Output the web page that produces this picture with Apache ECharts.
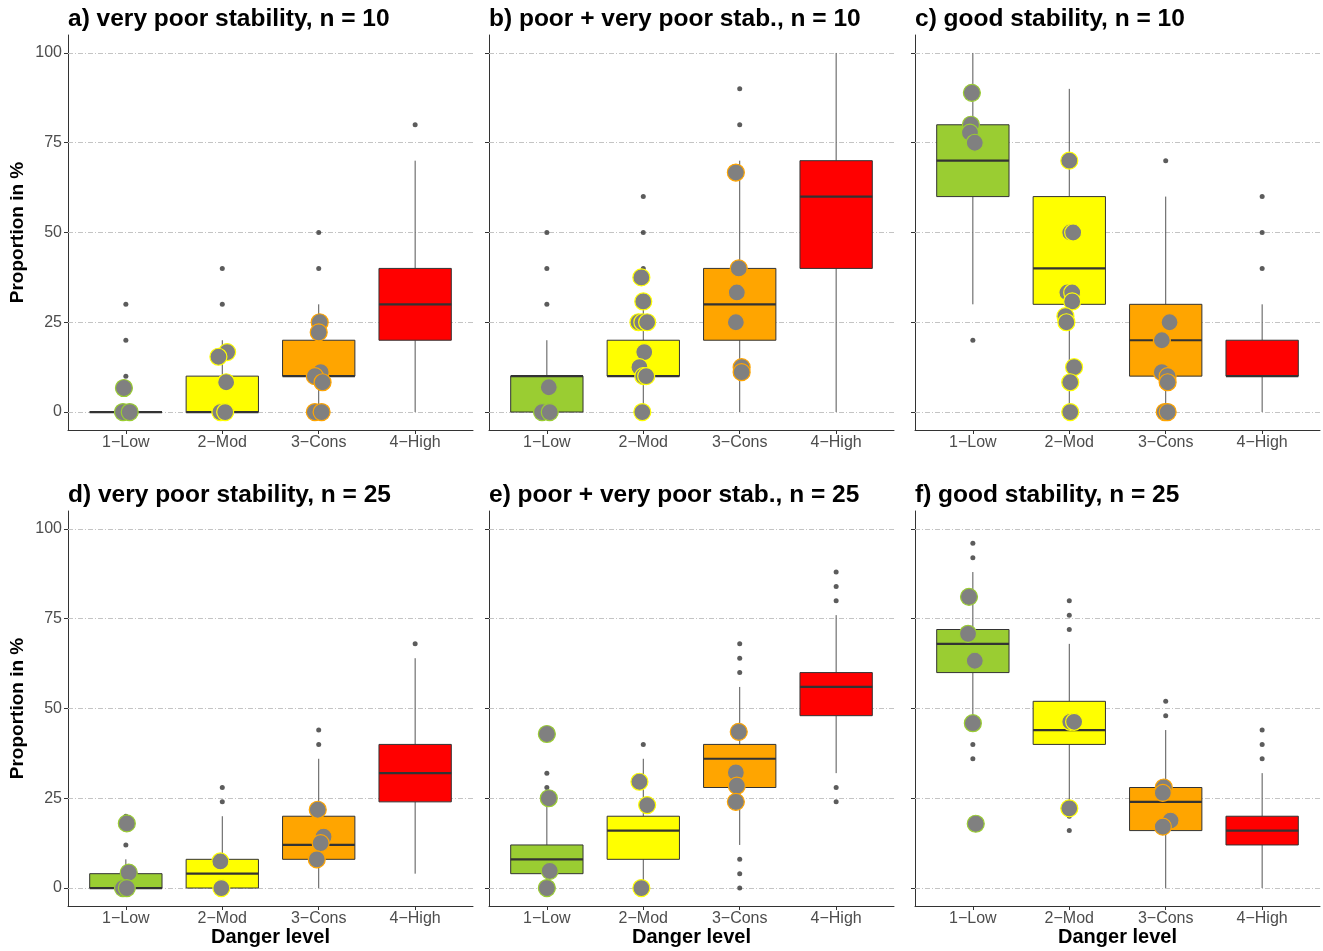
<!DOCTYPE html>
<html>
<head>
<meta charset="utf-8">
<script src="https://cdn.jsdelivr.net/npm/echarts@6/dist/echarts.min.js"></script>
<style>
html,body{margin:0;padding:0;background:#fff;}
#chart{width:1323px;height:951px;}
</style>
</head>
<body>
<div id="chart"></div>
<script>
// ---- categories / labels ----
const categories = ['1\u2212Low', '2\u2212Mod', '3\u2212Cons', '4\u2212High'];
const catColors = ['#9ACD32', '#FFFF00', '#FFA500', '#FF0000'];
const titles = [
  'a) very poor stability, n = 10',
  'b) poor + very poor stab., n = 10',
  'c) good stability, n = 10',
  'd) very poor stability, n = 25',
  'e) poor + very poor stab., n = 25',
  'f) good stability, n = 25'
];
const yTicks = [0, 25, 50, 75, 100];

// ---- box statistics per panel: [lower whisker, Q1, median, Q3, upper whisker] ----
const boxA = [[0,0,0,0,0],[0,0,0,10,20],[0,10,10,20,30],[0,20,30,40,70]];
const boxB = [[0,0,10,10,20],[0,10,10,20,30],[0,20,30,40,70],[0,40,60,70,100]];
const boxC = [[30,60,70,80,100],[0,30,40,60,90],[0,10,20,30,60],[0,10,10,20,30]];
const boxD = [[0,0,0,4,8],[0,0,4,8,20],[0,8,12,20,36],[4,24,32,40,64]];
const boxE = [[0,4,8,12,24],[0,8,16,20,36],[12,28,36,40,56],[32,48,56,60,76]];
const boxF = [[44,60,68,72,88],[24,40,44,52,68],[0,16,24,28,44],[0,12,16,20,32]];

// ---- outliers per panel, per category ----
const outA = [[10,20,30],[30,40],[40,50],[80]];
const outB = [[30,40,50],[40,50,60],[80,90],[]];
const outC = [[20],[],[70],[40,50,60]];
const outD = [[12,20],[24,28],[40,44],[68]];
const outE = [[28,32],[40],[0,4,8,60,64,68],[24,28,80,84,88]];
const outF = [[36,40,92,96],[16,20,72,76,80],[48,52],[36,40,44]];

// ---- case points (jittered x, value) per panel, per category ----
const ptsA = [
  [[0.98,6.7],[0.97,0],[1.04,0]],
  [[2.05,16.7],[1.96,15.4],[2.04,8.3],[1.98,0],[2.03,0]],
  [[3.01,25],[3.0,22.2],[3.02,11.1],[2.96,10],[3.04,8.3],[2.96,0],[3.03,0]],
  []
];
const ptsB = [
  [[1.02,6.9],[0.95,0],[1.03,0]],
  [[1.98,37.5],[2.0,30.8],[1.95,25],[1.99,25],[2.04,25],[2.01,16.7],[1.96,12.5],[2.0,10],[2.03,10],[1.99,0]],
  [[2.96,66.7],[2.99,40],[2.97,33.3],[2.96,25],[3.02,12.5],[3.02,11.1]],
  []
];
const ptsC = [
  [[0.99,88.9],[0.98,80],[0.97,77.8],[1.02,75]],
  [[2.0,70],[2.01,50],[2.04,50],[1.98,33.3],[2.03,33.3],[2.03,30.8],[1.96,26.7],[1.97,25],[2.05,12.5],[2.01,8.3],[2.01,0]],
  [[3.04,25],[2.96,20],[2.96,11.1],[3.02,10],[3.02,8.3],[2.99,0],[3.02,0]],
  []
];
const ptsD = [
  [[1.01,18],[1.03,4.3],[0.97,0],[1.01,0]],
  [[1.98,7.4],[1.99,0]],
  [[2.99,21.8],[3.05,14.3],[3.02,12.5],[2.98,8]],
  []
];
const ptsE = [
  [[1.0,42.9],[1.02,25],[1.03,4.8],[1.0,0]],
  [[1.96,29.6],[2.04,23.1],[1.98,0]],
  [[2.99,43.5],[2.96,32.2],[2.97,28.5],[2.96,24]],
  []
];
const ptsF = [
  [[0.96,81.1],[0.95,70.8],[1.02,63.3],[1.0,45.9],[1.03,17.9]],
  [[2.01,46.3],[2.05,46.3],[2.0,22.2]],
  [[2.98,28],[2.97,26.5],[3.05,18.8],[2.97,17.1]],
  []
];

const panelBoxes = [boxA, boxB, boxC, boxD, boxE, boxF];
const panelOut = [outA, outB, outC, outD, outE, outF];
const panelPts = [ptsA, ptsB, ptsC, ptsD, ptsE, ptsF];

// ---- layout ----
const gridLefts = [68, 489, 915];
const gridWidth = 405;
const gridTops = [35, 511];
const gridHeight = 395;
const titleTops = [7, 483];

const grids = [], xAxes = [], yAxes = [], series = [], titleOpts = [];
const textCol = '#4D4D4D', axisCol = '#333333';
const fontFam = 'Liberation Sans, Arial, sans-serif';

for (let p = 0; p < 6; p++) {
  const r = Math.floor(p / 3), c = p % 3;
  grids.push({left: gridLefts[c], top: gridTops[r], width: gridWidth, height: gridHeight, containLabel: false});
  titleOpts.push({
    text: titles[p], left: gridLefts[c], top: titleTops[r], padding: 0,
    textStyle: {fontFamily: fontFam, fontSize: 24.5, fontWeight: 'bold', color: '#000'}
  });
  xAxes.push({
    type: 'value', gridIndex: p, min: 0.4, max: 4.6,
    axisLine: {show: true, onZero: false, lineStyle: {color: axisCol, width: 1}},
    axisTick: {show: true, customValues: [1,2,3,4], length: 4, lineStyle: {color: axisCol}},
    axisLabel: {show: true, customValues: [1,2,3,4], margin: 5, fontSize: 16, color: textCol,
      fontFamily: fontFam,
      formatter: v => categories[Math.round(v) - 1] || ''},
    splitLine: {show: false},
    name: r === 1 ? 'Danger level' : '', nameLocation: 'middle', nameGap: 20,
    nameTextStyle: {fontSize: 20, fontWeight: 'bold', color: '#000', fontFamily: fontFam}
  });
  yAxes.push({
    type: 'value', gridIndex: p, min: -5, max: 105,
    axisLine: {show: true, onZero: false, lineStyle: {color: axisCol, width: 1}},
    axisTick: {show: true, customValues: yTicks, length: 4, lineStyle: {color: axisCol}},
    axisLabel: {show: c === 0, customValues: yTicks, margin: 6, fontSize: 16, color: textCol,
      fontFamily: fontFam},
    splitLine: {show: false},
    name: c === 0 ? 'Proportion in %' : '', nameLocation: 'middle', nameGap: 41, nameRotate: 90,
    nameTextStyle: {fontSize: 19, fontWeight: 'bold', color: '#000', fontFamily: fontFam}
  });

  // boxes (custom drawn through axes)
  const boxData = panelBoxes[p].map((s, i) => [i + 1].concat(s));
  series.push({
    type: 'custom', xAxisIndex: p, yAxisIndex: p, z: 2,
    data: boxData,
    encode: {x: 0, y: [1,2,3,4,5]},
    renderItem: function (params, api) {
      const x = api.value(0);
      const lo = api.coord([x, api.value(1)]);
      const q1 = api.coord([x, api.value(2)]);
      const md = api.coord([x, api.value(3)]);
      const q3 = api.coord([x, api.value(4)]);
      const hi = api.coord([x, api.value(5)]);
      const hw = api.size([0.75, 0])[0] / 2;
      const cx = lo[0];
      return {type: 'group', children: [
        {type: 'line', shape: {x1: cx, y1: q1[1], x2: cx, y2: lo[1]}, style: {stroke: '#555', lineWidth: 1}},
        {type: 'line', shape: {x1: cx, y1: q3[1], x2: cx, y2: hi[1]}, style: {stroke: '#555', lineWidth: 1}},
        {type: 'rect', shape: {x: cx - hw, y: q3[1], width: 2 * hw, height: q1[1] - q3[1]},
          style: {fill: catColors[params.dataIndex], stroke: '#333', lineWidth: 1}},
        {type: 'line', shape: {x1: cx - hw, y1: md[1], x2: cx + hw, y2: md[1]}, style: {stroke: '#333', lineWidth: 2.2}}
      ]};
    },
    markLine: {
      z: 1, silent: true, symbol: ['none', 'none'], label: {show: false},
      lineStyle: {color: '#C4C4C4', width: 1, type: [5, 2, 1, 2]},
      emphasis: {disabled: true},
      data: yTicks.map(v => ({yAxis: v}))
    }
  });

  // outliers
  const outData = [];
  panelOut[p].forEach((arr, i) => arr.forEach(v => outData.push([i + 1, v])));
  series.push({
    type: 'scatter', xAxisIndex: p, yAxisIndex: p, z: 3,
    symbol: 'circle', symbolSize: 5, data: outData,
    itemStyle: {color: '#333333'}
  });

  // case points
  const ptData = [];
  panelPts[p].forEach((arr, i) => arr.forEach(pt => ptData.push({
    value: pt, itemStyle: {borderColor: catColors[i]}
  })));
  series.push({
    type: 'scatter', xAxisIndex: p, yAxisIndex: p, z: 4,
    symbol: 'circle', symbolSize: 17, data: ptData,
    itemStyle: {color: '#808080', borderWidth: 1.2, opacity: 1}
  });
}

const chart = echarts.init(document.getElementById('chart'), null, {renderer: 'canvas'});
chart.setOption({
  backgroundColor: '#ffffff',
  animation: false,
  title: titleOpts,
  grid: grids,
  xAxis: xAxes,
  yAxis: yAxes,
  series: series
});
</script>
</body>
</html>
